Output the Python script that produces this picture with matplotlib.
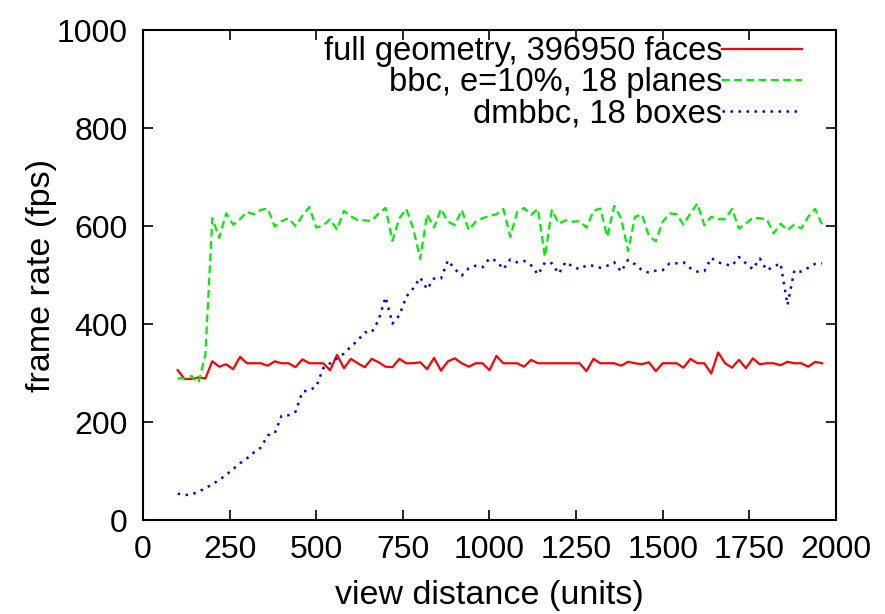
import matplotlib
matplotlib.use("Agg")
import matplotlib.pyplot as plt
import numpy as np

plt.rcParams['font.family'] = ['Liberation Sans', 'DejaVu Sans']

# view distance, 100 .. 1960 step 20
dist = np.arange(100, 1961, 20)

full_geom = [306, 288, 288, 291, 289, 324, 313, 318, 308, 333,
             320, 320, 320, 315, 324, 320, 320, 312, 328, 320,
             320, 320, 306, 337, 310, 329, 320, 312, 329, 322,
             313, 312, 329, 320, 320, 322, 308, 331, 305, 324,
             330, 320, 313, 320, 320, 306, 335, 320, 320, 320,
             313, 327, 320, 320, 320, 320, 320, 320, 320, 304,
             329, 320, 320, 320, 315, 323, 320, 318, 322, 304,
             320, 320, 320, 311, 329, 320, 320, 299, 342, 320,
             311, 327, 310, 330, 318, 320, 320, 316, 323, 320,
             320, 313, 323, 320]

bbc = [289, 290, 294, 280, 337, 616, 576, 626, 603, 614,
       629, 624, 633, 636, 599, 610, 616, 600, 621, 639,
       597, 601, 614, 593, 631, 620, 612, 612, 610, 626,
       637, 570, 616, 635, 595, 533, 624, 597, 635, 609,
       602, 633, 592, 609, 616, 621, 624, 635, 578, 629,
       637, 623, 635, 537, 633, 605, 612, 609, 610, 597,
       631, 636, 578, 641, 616, 549, 619, 624, 580, 569,
       609, 626, 624, 603, 626, 646, 602, 619, 614, 614,
       635, 595, 605, 617, 616, 614, 585, 605, 592, 603,
       595, 619, 635, 603]

dmbbc = [54, 51, 52, 58, 65, 73, 82, 92, 104, 116,
         126, 138, 148, 173, 177, 213, 214, 221, 262, 265,
         272, 310, 320, 330, 340, 354, 367, 383, 383, 408,
         455, 401, 418, 456, 473, 495, 471, 493, 493, 530,
         512, 499, 514, 519, 516, 534, 529, 512, 532, 526,
         529, 520, 501, 526, 524, 503, 527, 517, 512, 520,
         519, 515, 519, 526, 507, 531, 522, 510, 505, 509,
         510, 524, 524, 526, 514, 507, 508, 535, 526, 522,
         519, 537, 524, 512, 534, 510, 517, 524, 439, 510,
         507, 515, 523, 524]

labels = ['full geometry, 396950 faces', 'bbc, e=10%, 18 planes', 'dmbbc, 18 boxes']

fig = plt.figure(figsize=(8.85, 6.14), dpi=100)
ax = fig.add_axes([0.1616, 0.153, 0.7830, 0.798])

ax.plot(dist, full_geom, color='#ff0000', lw=1.6, label=labels[0])
ax.plot(dist, bbc, color='#00ee00', lw=1.6, ls=(0, (3.5, 2)), label=labels[1])
ax.plot(dist, dmbbc, color='#0000ff', lw=1.8, ls=(0, (1, 2.2)), label=labels[2])

ax.set_xlim(0, 2000)
ax.set_ylim(0, 1000)
ax.set_xticks(np.arange(0, 2001, 250))
ax.set_yticks(np.arange(0, 1001, 200))
ax.tick_params(direction='in', length=7, width=1.2, top=True, right=True,
               labelsize=23)
ax.tick_params(axis='x', pad=11)
ax.tick_params(axis='y', pad=11)
for s in ax.spines.values():
    s.set_linewidth(1.5)

ax.set_xlabel('view distance (units)', fontsize=24.5, labelpad=10.5)
ax.set_ylabel('frame rate (fps)', fontsize=24.5, labelpad=0)

ax.legend(loc='upper right', markerfirst=False, frameon=False, fontsize=23.5,
          handlelength=2.45, handletextpad=0.0, labelspacing=0.0,
          borderpad=0.0, borderaxespad=0.0, bbox_to_anchor=(0.951, 0.987))

fig.savefig('out.png', dpi=100)
